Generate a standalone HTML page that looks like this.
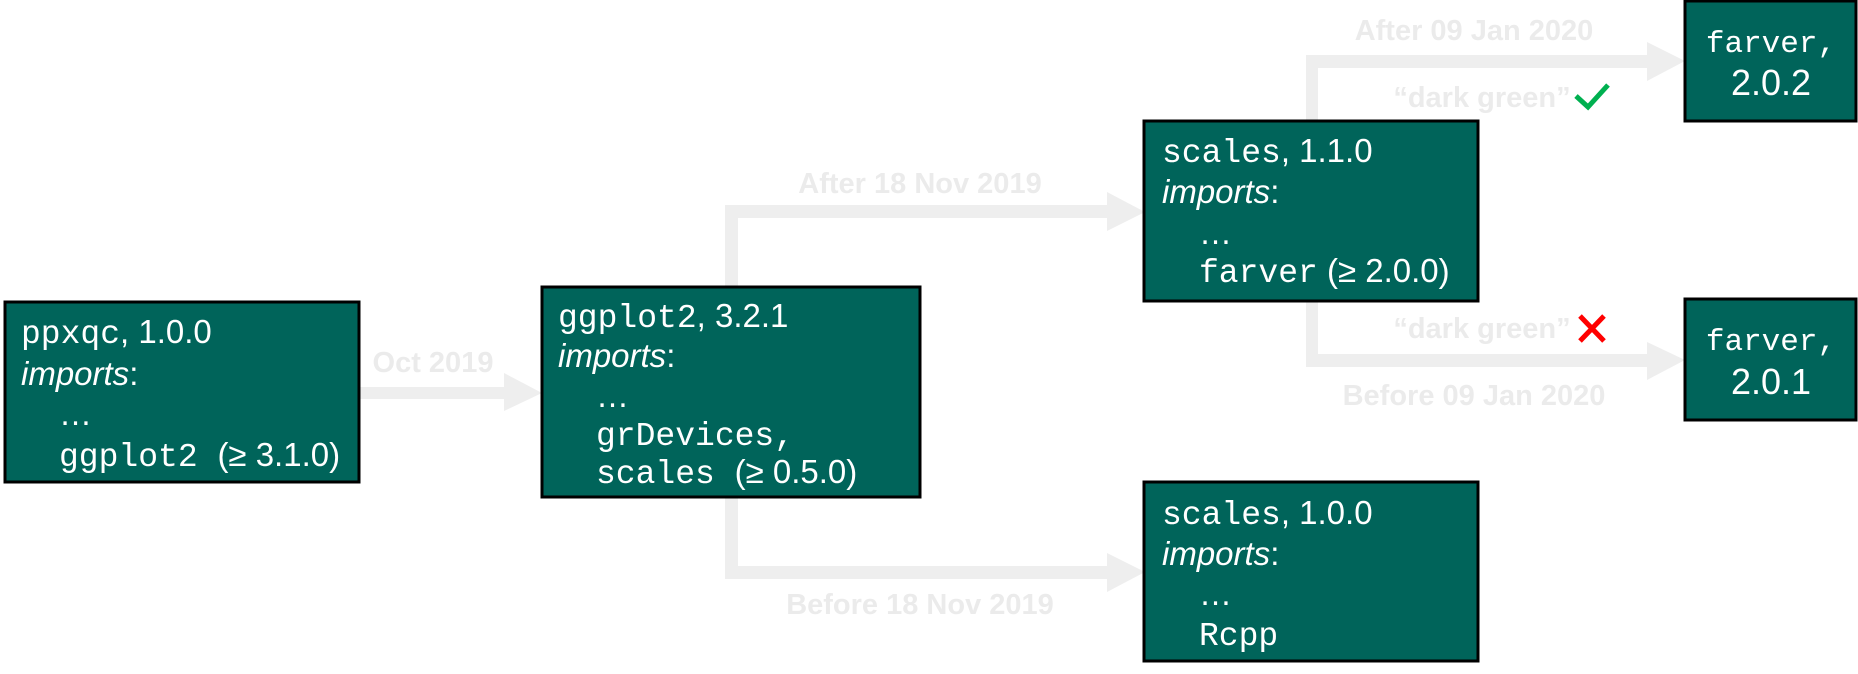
<!DOCTYPE html>
<html><head><meta charset="utf-8"><style>
html,body{margin:0;padding:0;background:#fff;}
svg{display:block}
.m{font-family:"Liberation Mono",monospace;font-size:33px;fill:#fff}
.f{font-family:"Liberation Mono",monospace;font-size:31px;fill:#fff}
.s{font-family:"Liberation Sans",sans-serif;font-size:33px;fill:#fff}
.v{font-family:"Liberation Sans",sans-serif;font-size:36px;fill:#fff}
.i{font-family:"Liberation Sans",sans-serif;font-size:33px;fill:#fff;font-style:italic}
.l{font-family:"Liberation Sans Narrow","Liberation Sans",sans-serif;font-weight:bold;font-size:29px;fill:#ebebeb}
.b{fill:#00645a;stroke:#000;stroke-width:3}
</style></head><body>
<svg width="1858" height="674" viewBox="0 0 1858 674">
<g fill="#eeeeee">
<rect x="359" y="387" width="148" height="12"/>
<polygon points="504,373 542,393 504,411"/>
<rect x="725" y="205" width="13" height="82"/>
<rect x="725" y="497" width="13" height="82"/>
<rect x="725" y="205" width="385" height="13"/>
<rect x="725" y="566" width="385" height="13"/>
<polygon points="1107,192 1145,212 1107,231"/>
<polygon points="1107,553 1145,572 1107,592"/>
<rect x="1306" y="55" width="12" height="66"/>
<rect x="1306" y="301" width="12" height="66"/>
<rect x="1306" y="55" width="344" height="13"/>
<rect x="1306" y="354" width="344" height="13"/>
<polygon points="1647,42 1685,61 1647,81"/>
<polygon points="1647,342 1685,360 1647,380"/>
</g>
<text class="l" x="433" y="372" text-anchor="middle">Oct 2019</text>
<text class="l" x="920" y="193" text-anchor="middle">After 18 Nov 2019</text>
<text class="l" x="920" y="614" text-anchor="middle">Before 18 Nov 2019</text>
<text class="l" x="1474" y="40" text-anchor="middle">After 09 Jan 2020</text>
<text class="l" x="1482" y="107" text-anchor="middle">“dark green”</text>
<text class="l" x="1482" y="338" text-anchor="middle">“dark green”</text>
<text class="l" x="1474" y="405" text-anchor="middle">Before 09 Jan 2020</text>
<polyline points="1576,96 1588,107 1608,85" fill="none" stroke="#00b050" stroke-width="5"/>
<path d="M1580,316 L1604,341 M1604,316 L1580,341" stroke="#ff0000" stroke-width="5"/>

<rect class="b" x="5" y="302" width="354" height="180"/>
<text x="21" y="343"><tspan class="m">ppxqc</tspan><tspan class="s">, 1.0.0</tspan></text>
<text x="21" y="385"><tspan class="i">imports</tspan><tspan class="s">:</tspan></text>
<text class="s" x="59" y="425">…</text>
<text x="59" y="466"><tspan class="m">ggplot2 </tspan><tspan class="s">(≥ 3.1.0)</tspan></text>

<rect class="b" x="542" y="287" width="378" height="210"/>
<text x="558" y="327"><tspan class="m">ggplot2</tspan><tspan class="s">, 3.2.1</tspan></text>
<text x="558" y="367"><tspan class="i">imports</tspan><tspan class="s">:</tspan></text>
<text class="s" x="596" y="407">…</text>
<text class="m" x="596" y="445">grDevices,</text>
<text x="596" y="483"><tspan class="m">scales </tspan><tspan class="s">(≥ 0.5.0)</tspan></text>

<rect class="b" x="1144" y="121" width="334" height="180"/>
<text x="1162" y="162"><tspan class="m">scales</tspan><tspan class="s">, 1.1.0</tspan></text>
<text x="1162" y="203"><tspan class="i">imports</tspan><tspan class="s">:</tspan></text>
<text class="s" x="1199" y="244">…</text>
<text x="1199" y="282"><tspan class="m">farver</tspan><tspan class="s"> (≥ 2.0.0)</tspan></text>

<rect class="b" x="1144" y="482" width="334" height="179"/>
<text x="1162" y="524"><tspan class="m">scales</tspan><tspan class="s">, 1.0.0</tspan></text>
<text x="1162" y="565"><tspan class="i">imports</tspan><tspan class="s">:</tspan></text>
<text class="s" x="1199" y="605">…</text>
<text class="m" x="1199" y="645">Rcpp</text>

<rect class="b" x="1685" y="1" width="171" height="120"/>
<text class="f" x="1771" y="52" text-anchor="middle">farver,</text>
<text class="v" x="1771" y="95" text-anchor="middle">2.0.2</text>

<rect class="b" x="1685" y="299" width="171" height="121"/>
<text class="f" x="1771" y="350" text-anchor="middle">farver,</text>
<text class="v" x="1771" y="394" text-anchor="middle">2.0.1</text>
</svg>
</body></html>
